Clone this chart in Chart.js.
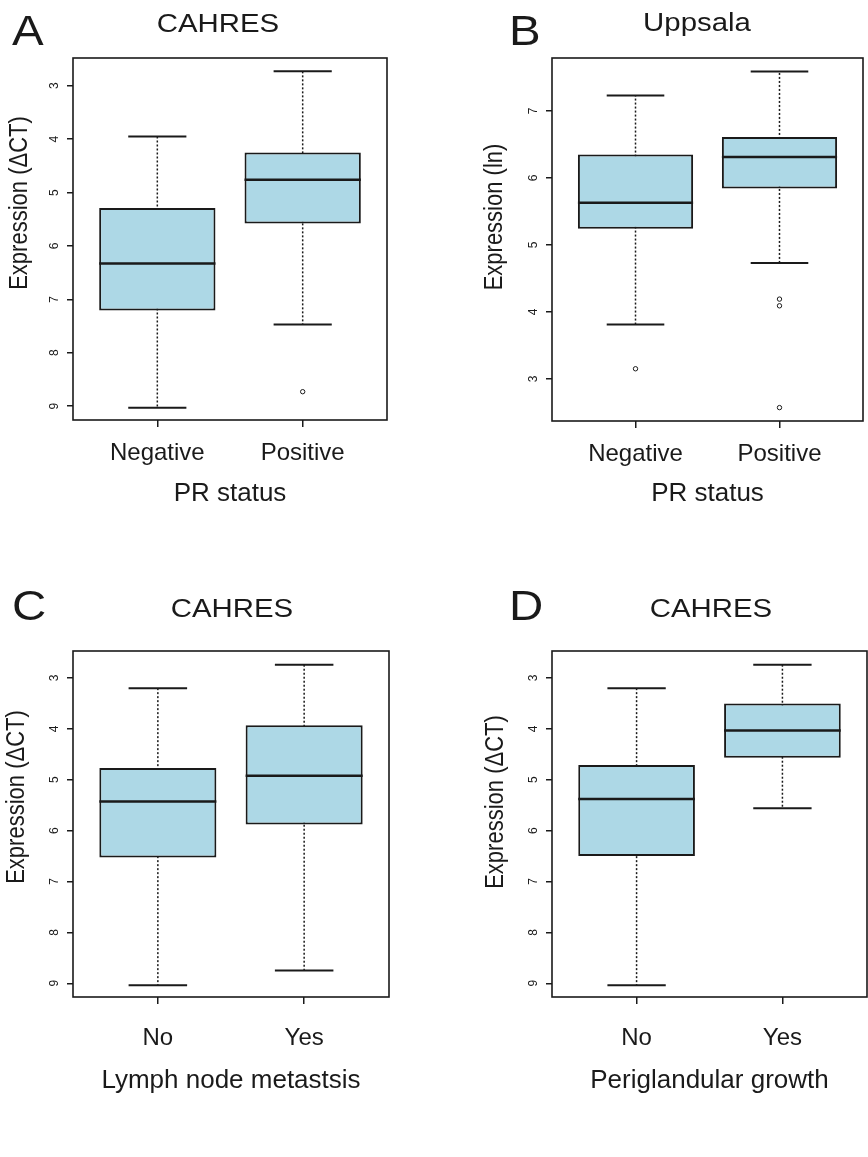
<!DOCTYPE html>
<html>
<head>
<meta charset="utf-8">
<script src="https://cdn.jsdelivr.net/npm/chart.js@4.4.1/dist/chart.umd.min.js"></script>
<style>
body { margin: 0; background: #fff; }
#wrap { position: relative; width: 868px; height: 1157px; }
canvas { position: absolute; }
</style>
</head>
<body>
<div id="wrap">
<canvas id="cA" width="434" height="570" style="left:0;top:0"></canvas>
<canvas id="cB" width="434" height="570" style="left:434px;top:0"></canvas>
<canvas id="cC" width="434" height="587" style="left:0;top:570px"></canvas>
<canvas id="cD" width="434" height="587" style="left:434px;top:570px"></canvas>
</div>
<script>
var FONT = '"Liberation Sans", Arial, sans-serif';
var INK = '#1a1a1a';
var BOXFILL = '#ADD8E6';
var boxPos = [1, 2];

// x categories
var prLabels = ['Negative', 'Positive'];
var noYes = ['No', 'Yes'];

// y tick labels
var ctTicks = [3, 4, 5, 6, 7, 8, 9];
var lnTicks = [3, 4, 5, 6, 7];

// A - CAHRES, PR status (ΔCT)
var aMin = [3.95, 2.73];
var aQ1 = [5.29, 4.25];
var aMed = [6.33, 4.76];
var aQ3 = [7.21, 5.58];
var aMax = [9.03, 7.47];
var aOut = [[], [8.73]];

// B - Uppsala, PR status (ln)
var bMin = [3.81, 4.73];
var bQ1 = [5.24, 5.84];
var bMed = [5.63, 6.31];
var bQ3 = [6.35, 6.61];
var bMax = [7.23, 7.59];
var bOut = [[3.15], [4.19, 4.09, 2.57]];

// C - CAHRES, lymph node metastasis
var cMin = [3.20, 2.74];
var cQ1 = [4.77, 3.93];
var cMed = [5.43, 4.92];
var cQ3 = [6.53, 5.88];
var cMax = [9.04, 8.75];
var cOut = [[], []];

// D - CAHRES, periglandular growth
var dMin = [3.20, 2.74];
var dQ1 = [4.71, 3.50];
var dMed = [5.38, 4.03];
var dQ3 = [6.50, 4.57];
var dMax = [9.04, 5.56];
var dOut = [[], []];

function drawText(ctx, txt, x, y, size, align, base, rot) {
	ctx.save();
	ctx.translate(x, y);
	ctx.scale(1.13, 1);
	if (rot) ctx.rotate(rot);
	ctx.font = size + 'px ' + FONT;
	ctx.fillStyle = INK;
	ctx.textAlign = align;
	ctx.textBaseline = base;
	ctx.fillText(txt, 0, 0);
	ctx.restore();
}

function boxPlugin(lo, med, hi) {
	return {
		id: 'whiskers',
		beforeDatasetsDraw: function(chart) {
			var ctx = chart.ctx, xs = chart.scales.x, ys = chart.scales.y;
			ctx.save();
			ctx.strokeStyle = INK;
			for (var i = 0; i < boxPos.length; i++) {
				var px = xs.getPixelForValue(boxPos[i]);
				var c0 = xs.getPixelForValue(boxPos[i] - 0.2);
				var c1 = xs.getPixelForValue(boxPos[i] + 0.2);
				var yl = ys.getPixelForValue(lo[i]);
				var yh = ys.getPixelForValue(hi[i]);
				ctx.lineWidth = 1.5;
				ctx.setLineDash([2, 2]);
				ctx.beginPath(); ctx.moveTo(px, yl); ctx.lineTo(px, yh); ctx.stroke();
				ctx.setLineDash([]);
				ctx.lineWidth = 2;
				ctx.beginPath();
				ctx.moveTo(c0, yl); ctx.lineTo(c1, yl);
				ctx.moveTo(c0, yh); ctx.lineTo(c1, yh);
				ctx.stroke();
			}
			ctx.restore();
		},
		afterDatasetsDraw: function(chart) {
			var ctx = chart.ctx, xs = chart.scales.x, ys = chart.scales.y, a = chart.chartArea;
			ctx.save();
			ctx.strokeStyle = INK;
			ctx.lineWidth = 2.5;
			for (var i = 0; i < boxPos.length; i++) {
				var ym = ys.getPixelForValue(med[i]);
				ctx.beginPath();
				ctx.moveTo(xs.getPixelForValue(boxPos[i] - 0.4), ym);
				ctx.lineTo(xs.getPixelForValue(boxPos[i] + 0.4), ym);
				ctx.stroke();
			}
			ctx.lineWidth = 1.6;
			ctx.strokeRect(a.left, a.top, a.right - a.left, a.bottom - a.top);
			ctx.restore();
		}
	};
}

function textPlugin(t) {
	return {
		id: 'panelText',
		afterDraw: function(chart) {
			var ctx = chart.ctx;
			drawText(ctx, t.letter, t.lx, t.ly, 42, 'left', 'alphabetic', 0);
			drawText(ctx, t.title, t.tx, t.ty, 26, 'center', 'alphabetic', 0);
			drawText(ctx, t.ylab, t.yx, t.yy, 22, 'center', 'middle', -Math.PI / 2);
		}
	};
}

function makePanel(id, d, lay, txt) {
	var outPts = [];
	for (var i = 0; i < d.out.length; i++) {
		for (var j = 0; j < d.out[i].length; j++) outPts.push({x: boxPos[i], y: d.out[i][j]});
	}
	var boxes = d.q1.map(function(v, i) { return {x: boxPos[i], y: [v, d.q3[i]]}; });

	new Chart(document.getElementById(id), {
		type: 'bar',
		data: {
			datasets: [
				{
					type: 'bar',
					data: boxes,
					backgroundColor: BOXFILL,
					borderColor: INK,
					borderWidth: 2,
					borderSkipped: false,
					barPercentage: 0.8,
					categoryPercentage: 1
				},
				{
					type: 'scatter',
					data: outPts,
					pointStyle: 'circle',
					pointRadius: 2.2,
					borderColor: INK,
					borderWidth: 1,
					backgroundColor: 'rgba(0,0,0,0)'
				}
			]
		},
		options: {
			responsive: false,
			animation: false,
			layout: { padding: { left: 0, right: lay.right, top: lay.top, bottom: 0 } },
			plugins: { legend: { display: false }, tooltip: { enabled: false } },
			scales: {
				x: {
					type: 'linear',
					min: 0.42,
					max: 2.58,
					offset: false,
					afterBuildTicks: function(s) { s.ticks = boxPos.map(function(v) { return {value: v}; }); },
					afterFit: function(s) { s.height = lay.xh; },
					ticks: {
						callback: function(v, i) { return d.labels[i]; },
						font: { size: 24, family: FONT },
						color: INK,
						padding: lay.xpad,
						maxRotation: 0,
						autoSkip: false
					},
					grid: { display: true, offset: false, drawOnChartArea: false, tickLength: 7, color: INK, lineWidth: 1.5 },
					border: { display: false },
					title: {
						display: true,
						text: d.xtitle,
						font: { size: 26, family: FONT },
						color: INK,
						padding: { top: 0, bottom: 61 }
					}
				},
				y: {
					reverse: lay.reverse,
					beginAtZero: false,
					min: lay.ymin,
					max: lay.ymax,
					afterBuildTicks: function(s) { s.ticks = d.ticks.map(function(v) { return {value: v}; }); },
					afterFit: function(s) { s.width = lay.yw; },
					ticks: {
						font: { size: 12, family: FONT },
						color: INK,
						minRotation: 90,
						maxRotation: 90,
						crossAlign: 'center',
						padding: 9
					},
					grid: { display: true, drawOnChartArea: false, tickLength: 6, color: INK, lineWidth: 1.5 },
					border: { display: false }
				}
			}
		},
		plugins: [boxPlugin(d.min, d.med, d.max), textPlugin(txt)]
	});
}

makePanel('cA',
	{ q1: aQ1, q3: aQ3, min: aMin, med: aMed, max: aMax, out: aOut, labels: prLabels, ticks: ctTicks, xtitle: 'PR status' },
	{ right: 47, top: 58, xh: 150, yw: 73, xpad: 12, reverse: true, ymin: 2.48, ymax: 9.26 },
	{ letter: 'A', lx: 12, ly: 45, title: 'CAHRES', tx: 218, ty: 32, ylab: 'Expression (\u0394CT)', yx: 20, yy: 203 });

makePanel('cB',
	{ q1: bQ1, q3: bQ3, min: bMin, med: bMed, max: bMax, out: bOut, labels: prLabels, ticks: lnTicks, xtitle: 'PR status' },
	{ right: 1, top: 58, xh: 149, yw: 118, xpad: 12, reverse: false, ymin: 2.37, ymax: 7.79 },
	{ letter: 'B', lx: 75, ly: 45, title: 'Uppsala', tx: 263, ty: 31, ylab: 'Expression (ln)', yx: 61, yy: 217 });

makePanel('cC',
	{ q1: cQ1, q3: cQ3, min: cMin, med: cMed, max: cMax, out: cOut, labels: noYes, ticks: ctTicks, xtitle: 'Lymph node metastsis' },
	{ right: 45, top: 81, xh: 160, yw: 73, xpad: 20, reverse: true, ymin: 2.47, ymax: 9.27 },
	{ letter: 'C', lx: 12, ly: 50, title: 'CAHRES', tx: 232, ty: 47, ylab: 'Expression (\u0394CT)', yx: 17, yy: 227 });

makePanel('cD',
	{ q1: dQ1, q3: dQ3, min: dMin, med: dMed, max: dMax, out: dOut, labels: noYes, ticks: ctTicks, xtitle: 'Periglandular growth' },
	{ right: 1, top: 81, xh: 160, yw: 118, xpad: 20, reverse: true, ymin: 2.47, ymax: 9.27 },
	{ letter: 'D', lx: 75, ly: 50, title: 'CAHRES', tx: 277, ty: 47, ylab: 'Expression (\u0394CT)', yx: 62, yy: 232 });
</script>
</body>
</html>
